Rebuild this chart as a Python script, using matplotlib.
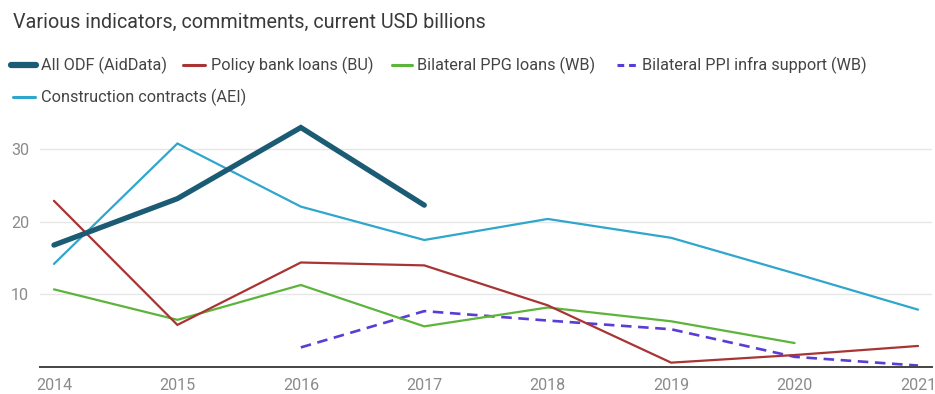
import matplotlib
matplotlib.use("Agg")
import matplotlib.pyplot as plt
import numpy as np
from matplotlib.lines import Line2D

plt.rcParams["font.family"] = ["Roboto", "DejaVu Sans"]

years = [2014, 2015, 2016, 2017, 2018, 2019, 2020, 2021]
all_odf = [16.8, 23.2, 33.0, 22.3, np.nan, np.nan, np.nan, np.nan]
policy_bank = [22.9, 5.8, 14.4, 14.0, 8.5, 0.6, 1.65, 2.9]
bilateral_ppg = [10.7, 6.5, 11.3, 5.6, 8.2, 6.3, 3.3, np.nan]
bilateral_ppi = [np.nan, np.nan, 2.7, 7.7, 6.4, 5.2, 1.4, 0.2]
construction = [14.2, 30.8, 22.1, 17.5, 20.4, 17.8, 12.9, 7.9]

y_ticks = [10, 20, 30]

series = [
    ("All ODF (AidData)", all_odf, "#1b5b74", 3.8, "-"),
    ("Policy bank loans (BU)", policy_bank, "#a83434", 1.6, "-"),
    ("Bilateral PPG loans (WB)", bilateral_ppg, "#5db43b", 1.6, "-"),
    ("Bilateral PPI infra support (WB)", bilateral_ppi, "#5a3dd4", 1.9, (0, (4, 2.5))),
    ("Construction contracts (AEI)", construction, "#2fa6cc", 1.6, "-"),
]

W, H = 935, 394
fig = plt.figure(figsize=(W / 100, H / 100), dpi=100)


def fx(px):
    return px / W


def fy(py):
    return 1 - py / H


ax = fig.add_axes([fx(40), fy(367), fx(892), (367 - 113) / H])

# draw in reverse so the thick ODF line sits on top
for name, vals, color, lw, ls in reversed(series):
    ax.plot(years, vals, color=color, lw=lw, ls=ls, solid_capstyle="round",
            dash_capstyle="butt", solid_joinstyle="miter")

ax.set_xlim(2013.887, 2021.113)
ax.set_ylim(0, 35)
ax.set_yticks(y_ticks)
ax.set_xticks(years)
ax.set_xticklabels([str(y) for y in years])
ax.grid(axis="y", color="#e6e6e6", lw=1)
ax.set_axisbelow(True)
for s in ["top", "right", "left"]:
    ax.spines[s].set_visible(False)
ax.spines["bottom"].set_color("#444444")
ax.spines["bottom"].set_linewidth(1.4)
ax.tick_params(axis="both", length=0, labelcolor="#8a8a8a", labelsize=11.6)
ax.tick_params(axis="y", pad=8)
ax.tick_params(axis="x", pad=8)

fig.text(fx(13), fy(22), "Various indicators, commitments, current USD billions",
         fontsize=14.2, color="#3a3a3a", va="center", ha="left")

# legend laid out in two rows
legend_pos = [
    (11, 36, 41, 65),
    (183, 205, 211, 65),
    (392, 412, 417, 65),
    (617, 637, 642, 65),
    (13, 35, 41, 97),
]
for (name, vals, color, lw, ls), (x0, x1, tx, ty) in zip(series, legend_pos):
    hl = 4.5 if lw > 3 else 2.2
    hls = (0, (2.2, 1.6)) if ls != "-" else "-"
    fig.add_artist(Line2D([fx(x0), fx(x1)], [fy(ty), fy(ty)], transform=fig.transFigure,
                          color=color, lw=hl, ls=hls, solid_capstyle="round"))
    fig.text(fx(tx), fy(ty), name, fontsize=11.7, color="#444444", va="center", ha="left")

fig.savefig("out.png", dpi=100, facecolor="white")
